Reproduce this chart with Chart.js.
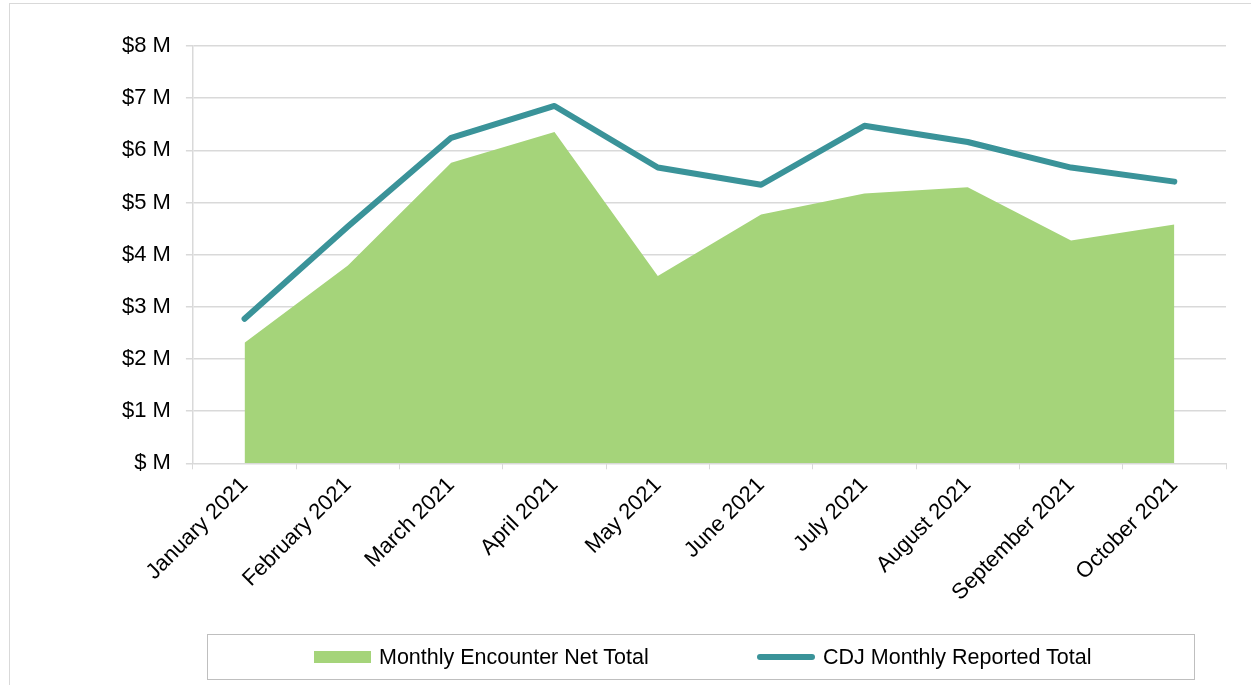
<!DOCTYPE html>
<html lang="en">

<head>
  <meta charset="UTF-8">
  <title>Monthly Encounter vs CDJ</title>
  <script src="https://cdn.jsdelivr.net/npm/chart.js"></script>
  <style>
    body { margin: 0; background: #fff; font-family: "Liberation Sans", Arial, sans-serif; }
    #wrap { position: relative; width: 1251px; height: 685px; overflow: hidden; }
    #frame { position: absolute; left: 9px; top: 3px; width: 1250px; height: 700px; border: 1px solid #d9d9d9; box-sizing: border-box; }
    #legend { position: absolute; left: 207px; top: 634px; width: 988px; height: 46px; border: 1px solid #bfbfbf; box-sizing: border-box; font-size: 21.5px; color: #000; }
    .item { position: absolute; top: 10px; line-height: 24px; }
    .sw { display: inline-block; vertical-align: middle; position: relative; top: -1px; }
  </style>
</head>

<body>
  <div id="wrap">
    <div id="frame"></div>
    <canvas id="chartTotals" width="1251" height="685" style="position:absolute;left:0;top:0"></canvas>
    <div id="legend">
      <div class="item" style="left:106px"><span class="sw" style="width:57px;height:12px;background:#a5d47a;margin-right:8px"></span>Monthly Encounter Net Total</div>
      <div class="item" style="left:549px"><span class="sw" style="width:58px;height:6px;border-radius:3px;background:#3a9399;margin-right:8px"></span>CDJ Monthly Reported Total</div>
    </div>
  </div>

  <script>
    const months = ['January 2021', 'February 2021', 'March 2021', 'April 2021', 'May 2021',
      'June 2021', 'July 2021', 'August 2021', 'September 2021', 'October 2021'];
    // values in $ millions
    const encounterNet = [2.31, 3.79, 5.76, 6.35, 3.59, 4.77, 5.17, 5.29, 4.27, 4.58];
    const cdjReported = [2.77, 4.54, 6.24, 6.85, 5.67, 5.34, 6.47, 6.16, 5.67, 5.40];

    const tickFont = { family: '"Liberation Sans", Arial, sans-serif', size: 22 };

    new Chart(document.getElementById('chartTotals'), {
      type: 'line',
      data: {
        labels: months,
        datasets: [{
          label: 'CDJ Monthly Reported Total',
          data: cdjReported,
          borderColor: '#3a9399',
          borderWidth: 6,
          borderCapStyle: 'round',
          borderJoinStyle: 'round',
          pointRadius: 0,
          fill: false,
          tension: 0,
          order: 0
        }, {
          label: 'Monthly Encounter Net Total',
          data: encounterNet,
          backgroundColor: '#a5d47a',
          borderWidth: 0,
          pointRadius: 0,
          fill: 'origin',
          tension: 0,
          order: 1
        }]
      },
      options: {
        responsive: false,
        animation: false,
        layout: { padding: { left: 107, right: 25, top: 46, bottom: 76 } },
        plugins: {
          legend: { display: false },
          tooltip: { enabled: false }
        },
        scales: {
          x: {
            offset: true,
            grid: { offset: true, drawOnChartArea: false, drawTicks: true, tickLength: 6, color: '#d9d9d9' },
            border: { color: '#d9d9d9', width: 1 },
            ticks: { color: '#000', font: tickFont, maxRotation: 45, minRotation: 45, padding: 3 }
          },
          y: {
            min: 0,
            max: 8,
            grid: { color: '#d9d9d9', lineWidth: 1.5, tickLength: 7 },
            border: { color: '#d9d9d9', width: 1.5 },
            ticks: {
              stepSize: 1,
              color: '#000',
              font: tickFont,
              padding: 15,
              callback: v => v === 0 ? '$ M' : '$' + v + ' M'
            }
          }
        }
      }
    });
  </script>
</body>

</html>
